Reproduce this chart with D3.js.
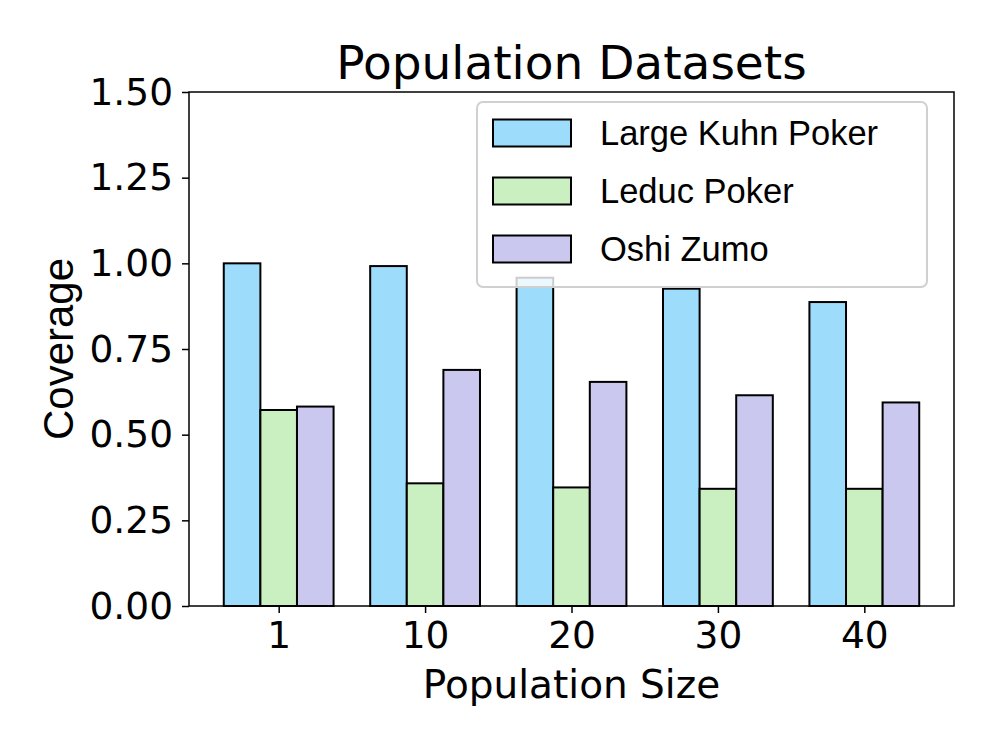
<!DOCTYPE html>
<html>
<head>
<meta charset="utf-8">
<script src="https://cdn.jsdelivr.net/npm/d3@7"></script>
<style>
  html, body { margin: 0; padding: 0; background: #fff; }
  svg { display: block; }
</style>
</head>
<body>
<svg id="chart" width="996" height="747"></svg>
<script>
const categories = ["1", "10", "20", "30", "40"];
const seriesNames = ["Large Kuhn Poker", "Leduc Poker", "Oshi Zumo"];
const largeKuhn = [1.00, 0.992, 0.958, 0.926, 0.887];
const leduc = [0.572, 0.358, 0.346, 0.342, 0.342];
const oshiZumo = [0.582, 0.689, 0.654, 0.615, 0.594];
const yTicks = [0, 0.25, 0.5, 0.75, 1.0, 1.25, 1.5];
const colors = ["#9ddcfa", "#caf0c1", "#cac8ee"];

const series = [largeKuhn, leduc, oshiZumo];
const barW = 0.25;

const svg = d3.select("#chart");
const L = 189, R = 954, T = 92, B = 606;

const x = d3.scaleLinear().domain([-0.6125, 4.6125]).range([L, R]);
const y = d3.scaleLinear().domain([0, 1.5]).range([B, T]);

// bars
series.forEach((vals, si) => {
  svg.append("g").selectAll("rect").data(vals).join("rect")
    .attr("x", (d, i) => x(i + (si - 1) * barW - barW / 2))
    .attr("width", x(barW) - x(0))
    .attr("y", d => y(d))
    .attr("height", d => y(0) - y(d))
    .attr("fill", colors[si])
    .attr("stroke", "#000")
    .attr("stroke-width", 2);
});

// y axis
const yAxis = svg.append("g").attr("transform", `translate(${L},0)`)
  .call(d3.axisLeft(y).tickValues(yTicks).tickFormat(d3.format(".2f")).tickSize(7).tickPadding(9));
yAxis.select(".domain").remove();
yAxis.selectAll("line").attr("stroke", "#000").attr("stroke-width", 1.5);
yAxis.selectAll("text").attr("font-family", "DejaVu Sans").attr("font-size", 37.5).attr("fill", "#000");

// x axis
const xAxis = svg.append("g").attr("transform", `translate(0,${B})`)
  .call(d3.axisBottom(x).tickValues(d3.range(categories.length)).tickFormat(i => categories[i]).tickSize(7).tickPadding(8));
xAxis.select(".domain").remove();
xAxis.selectAll("line").attr("stroke", "#000").attr("stroke-width", 1.5);
xAxis.selectAll("text").attr("font-family", "DejaVu Sans").attr("font-size", 37.5).attr("fill", "#000");

// frame
svg.append("rect").attr("x", L).attr("y", T).attr("width", R - L).attr("height", B - T)
  .attr("fill", "none").attr("stroke", "#000").attr("stroke-width", 1.5);

// title and labels
svg.append("text").attr("x", (L + R) / 2).attr("y", 79).attr("text-anchor", "middle")
  .attr("font-family", "DejaVu Sans").attr("font-size", 47).text("Population Datasets");
svg.append("text").attr("x", (L + R) / 2).attr("y", 698).attr("text-anchor", "middle")
  .attr("font-family", "DejaVu Sans").attr("font-size", 39).text("Population Size");
svg.append("text").attr("transform", `translate(73,${(T + B) / 2}) rotate(-90)`).attr("text-anchor", "middle")
  .attr("font-family", "Liberation Sans").attr("font-size", 42).text("Coverage");

// legend
const lg = svg.append("g");
lg.append("rect").attr("x", 477).attr("y", 102).attr("width", 450).attr("height", 185)
  .attr("rx", 6).attr("fill", "#fff").attr("fill-opacity", 0.8)
  .attr("stroke", "#d0d0d0").attr("stroke-width", 2);
seriesNames.forEach((name, i) => {
  const cy = 133 + i * 58;
  lg.append("rect").attr("x", 493).attr("y", cy - 13.5).attr("width", 78).attr("height", 27)
    .attr("fill", colors[i]).attr("stroke", "#000").attr("stroke-width", 2);
  lg.append("text").attr("x", 600).attr("y", cy).attr("dy", "0.36em")
    .attr("font-family", "Liberation Sans").attr("font-size", 34.5).text(name);
});
</script>
</body>
</html>
